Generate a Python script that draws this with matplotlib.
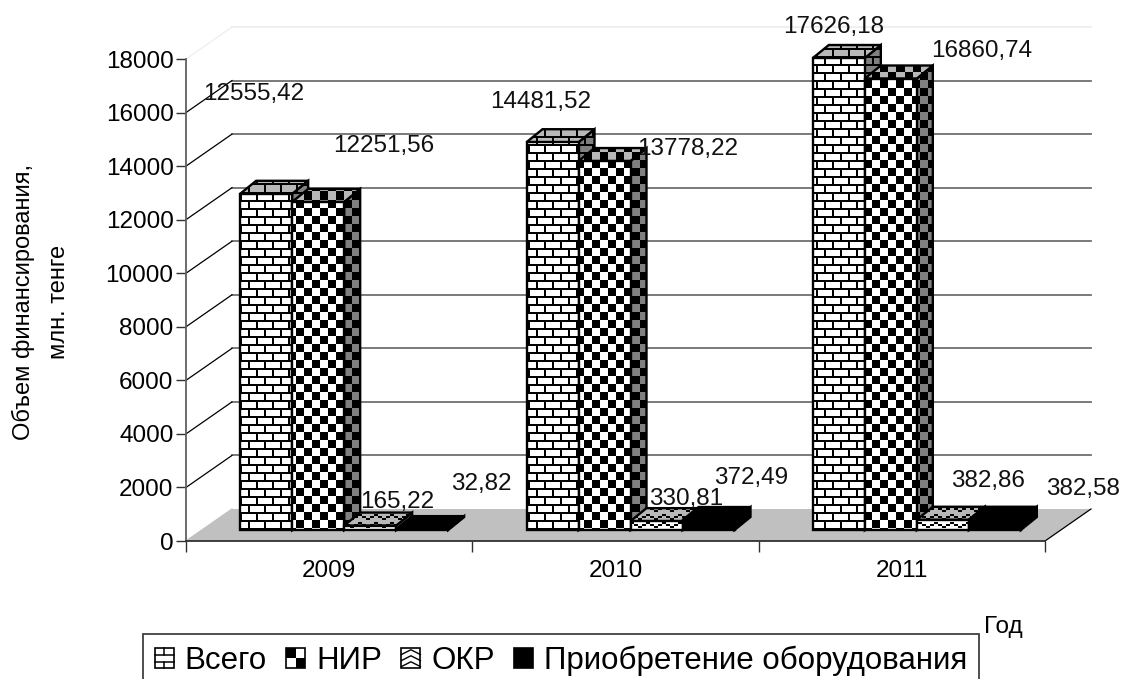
import numpy as np
import matplotlib
matplotlib.use('Agg')
import matplotlib.pyplot as plt
from matplotlib.patches import Patch, Polygon, Rectangle
from matplotlib.legend_handler import HandlerBase
from matplotlib.lines import Line2D

plt.rcParams['font.family'] = ['Liberation Sans', 'DejaVu Sans']

years = ['2009', '2010', '2011']
series_names = ['Всего', 'НИР', 'ОКР', 'Приобретение оборудования']
vsego = [12555.42, 14481.52, 17626.18]
nir = [12251.56, 13778.22, 16860.74]
okr = [165.22, 330.81, 382.86]
equip = [32.82, 372.49, 382.58]
y_ticks = list(range(0, 18001, 2000))

# label offsets from the bar top, in pixels
label_dx = [[-12, -12, -5], [66, 83, 91], [27, 30, 45], [59, 43, 88]]
label_dy = [[100, 40, 31], [56, 12, 28], [24, 22, 39], [45, 42, 31]]

W, H = 1121, 679
X0, X1 = 186, 1045   # front axis, pixels
Y0, Y1 = 541, 59
PX_X = 3 / (X1 - X0)
PX_Y = 18000 / (Y0 - Y1)
FONT = 17.5


def rows_to_tile(rows):
    tile = np.array([[c == '#' for c in r] for r in rows], dtype=float)
    return np.kron(tile, np.ones((2, 2)))


BRICK = rows_to_tile(['########', '#.......', '#.......', '#.......',
                      '########', '....#...', '....#...', '....#...'])
CHECK = rows_to_tile(['####....', '####....', '####....', '####....',
                      '....####', '....####', '....####', '....####'])
WAVE = rows_to_tile(['........', '...##...', '.##..##.', '#......#'])
SOLID = rows_to_tile(['########'] * 8)
TILES = [BRICK, CHECK, WAVE, SOLID]

fig = plt.figure(figsize=(W / 100, H / 100), dpi=100)
ax = fig.add_axes([0, 0, 1, 1])
ax.set_xlim(-X0 * PX_X, (W - X0) * PX_X)
ax.set_ylim(-(H - Y0) * PX_Y, Y0 * PX_Y)
ax.set_autoscale_on(False)
ax.patch.set_visible(False)


def textured_face(verts, tile, paper, ink, z):
    verts = np.array(verts)
    pts = ax.transData.transform(verts)
    left, right = int(np.floor(pts[:, 0].min())), int(np.ceil(pts[:, 0].max()))
    bottom, top = int(np.floor(pts[:, 1].min())), int(np.ceil(pts[:, 1].max()))
    cols = np.arange(left, right) % tile.shape[1]
    rows = (H - np.arange(top, bottom, -1)) % tile.shape[0]
    arr = np.where(tile[np.ix_(rows, cols)] > 0, ink, paper)
    inv = ax.transData.inverted()
    (x_a, y_a), (x_b, y_b) = inv.transform([(left, bottom), (right, top)])
    im = ax.imshow(arr, extent=(x_a, x_b, y_a, y_b), origin='upper', aspect='auto',
                   cmap='gray', vmin=0, vmax=1, interpolation='nearest', zorder=z)
    outline = Polygon(verts, closed=True, fill=False, ec='black', lw=1.7, zorder=z + 0.1)
    ax.add_patch(outline)
    im.set_clip_path(outline)


def draw_bar(x0, w, base, val, dx, dy, tile, z):
    top = base + val
    textured_face([(x0 + w, base), (x0 + w + dx, base + dy), (x0 + w + dx, top + dy), (x0 + w, top)],
                  tile, 0.5, 0.0, z)
    textured_face([(x0, top), (x0 + w, top), (x0 + w + dx, top + dy), (x0 + dx, top + dy)],
                  tile, 0.72, 0.0, z + 0.2)
    textured_face([(x0, base), (x0 + w, base), (x0 + w, top), (x0, top)],
                  tile, 1.0, 0.0, z + 0.4)


# floor and walls
floor_dx, floor_dy = 46 * PX_X, 32 * PX_Y
ax.add_patch(Polygon([(0, 0), (3, 0), (3 + floor_dx, floor_dy), (floor_dx, floor_dy)],
                     closed=True, fc='#c0c0c0', ec='none', zorder=1))
for v in y_ticks[1:]:
    faint = v == y_ticks[-1]
    ax.plot([floor_dx, 3 + floor_dx], [v + floor_dy, v + floor_dy],
            color='#eeeeee' if faint else '#707070', lw=1.3, zorder=1.5)
    ax.plot([0, floor_dx], [v, v + floor_dy], color='#eeeeee' if faint else 'black', lw=0.9, zorder=1.5)
ax.plot([3 + floor_dx, 3], [floor_dy, 0], color='black', lw=0.9, zorder=1.2)
ax.plot([0, floor_dx], [0, floor_dy], color='#c0c0c0', lw=0.9, zorder=1.2)

# bars
all_values = [vsego, nir, okr, equip]
bar_w = 52 * PX_X
off_x, off_y = 15 * PX_X, 11 * PX_Y
depth_x, depth_y = 16 * PX_X, 13 * PX_Y
z = 3
for i in range(len(years)):
    for j, values in enumerate(all_values):
        x0 = i + 0.5 - 2 * bar_w + j * bar_w + off_x
        draw_bar(x0, bar_w, off_y, values[i], depth_x, depth_y, TILES[j], z)
        z += 1
        label = f'{values[i]:.2f}'.replace('.', ',')
        ax.annotate(label, (x0 + bar_w / 2, off_y + values[i]),
                    xytext=(label_dx[j][i], label_dy[j][i]), textcoords='offset pixels',
                    ha='center', va='center', fontsize=FONT, color='#111111', zorder=200)

# axes
for side in ['top', 'right']:
    ax.spines[side].set_visible(False)
ax.spines['left'].set_position(('data', 0))
ax.spines['bottom'].set_position(('data', 0))
ax.spines['left'].set_bounds(0, 18000)
ax.spines['bottom'].set_bounds(0, 3)
ax.spines['left'].set_color('#606060')
ax.spines['bottom'].set_color('#303030')
ax.spines['left'].set_linewidth(1.3)
ax.spines['bottom'].set_linewidth(1.3)
ax.set_yticks(y_ticks)
ax.tick_params(axis='y', labelsize=FONT, length=7, width=1, color='#303030', pad=2)
ax.set_xticks([0, 1, 2, 3])
ax.set_xticklabels([])
ax.tick_params(axis='x', length=8, width=1, color='#303030')
ax.set_xticks([0.5, 1.5, 2.5], minor=True)
ax.set_xticklabels(years, minor=True)
ax.tick_params(axis='x', which='minor', length=0, labelsize=FONT, pad=14)

fig.text(41 / W, 1 - 302 / H, 'Объем финансирования,\nмлн. тенге', rotation=90,
         ha='center', va='center', multialignment='center', fontsize=FONT - 0.5, linespacing=1.75)
fig.text(1003 / W, 1 - 627 / H, 'Год', ha='center', va='center', fontsize=FONT)


class SwatchHandler(HandlerBase):
    def __init__(self, kind):
        super().__init__()
        self.kind = kind

    def create_artists(self, legend, orig, xd, yd, width, height, fontsize, trans):
        x, y = -xd, -yd
        w, h = width, height
        parts = [Rectangle((x, y), w, h, fc='black' if self.kind == 3 else 'white', ec='black', lw=1.2)]
        if self.kind == 0:
            for f in (1 / 3, 2 / 3):
                parts.append(Line2D([x, x + w], [y + f * h] * 2, color='black', lw=1.1))
            parts.append(Line2D([x + w / 2] * 2, [y + 2 / 3 * h, y + h], color='black', lw=1.1))
            parts.append(Line2D([x + w / 2] * 2, [y, y + 1 / 3 * h], color='black', lw=1.1))
        elif self.kind == 1:
            parts.append(Rectangle((x, y + h / 2), w / 2, h / 2, fc='black', ec='none'))
            parts.append(Rectangle((x + w / 2, y), w / 2, h / 2, fc='black', ec='none'))
        elif self.kind == 2:
            for f in (0.2, 0.5, 0.8):
                parts.append(Line2D([x, x + w / 2, x + w], [y + (f - 0.12) * h, y + (f + 0.12) * h, y + (f - 0.12) * h],
                                    color='black', lw=1.0))
        for p in parts:
            p.set_transform(trans)
        return parts


handles = [Patch(label=name) for name in series_names]
leg = ax.legend(handles=handles, loc='center', bbox_to_anchor=(561 / W, 1 - 661 / H),
                bbox_transform=fig.transFigure, ncol=4, fontsize=22.5,
                handler_map={h: SwatchHandler(k) for k, h in enumerate(handles)},
                handlelength=0.61, handleheight=0.61, handletextpad=0.35, columnspacing=0.62,
                borderpad=0.38, frameon=True, fancybox=False, framealpha=1, edgecolor='#404040')
leg.get_frame().set_linewidth(1.3)
leg.set_zorder(300)

fig.savefig('out.png', dpi=100)
